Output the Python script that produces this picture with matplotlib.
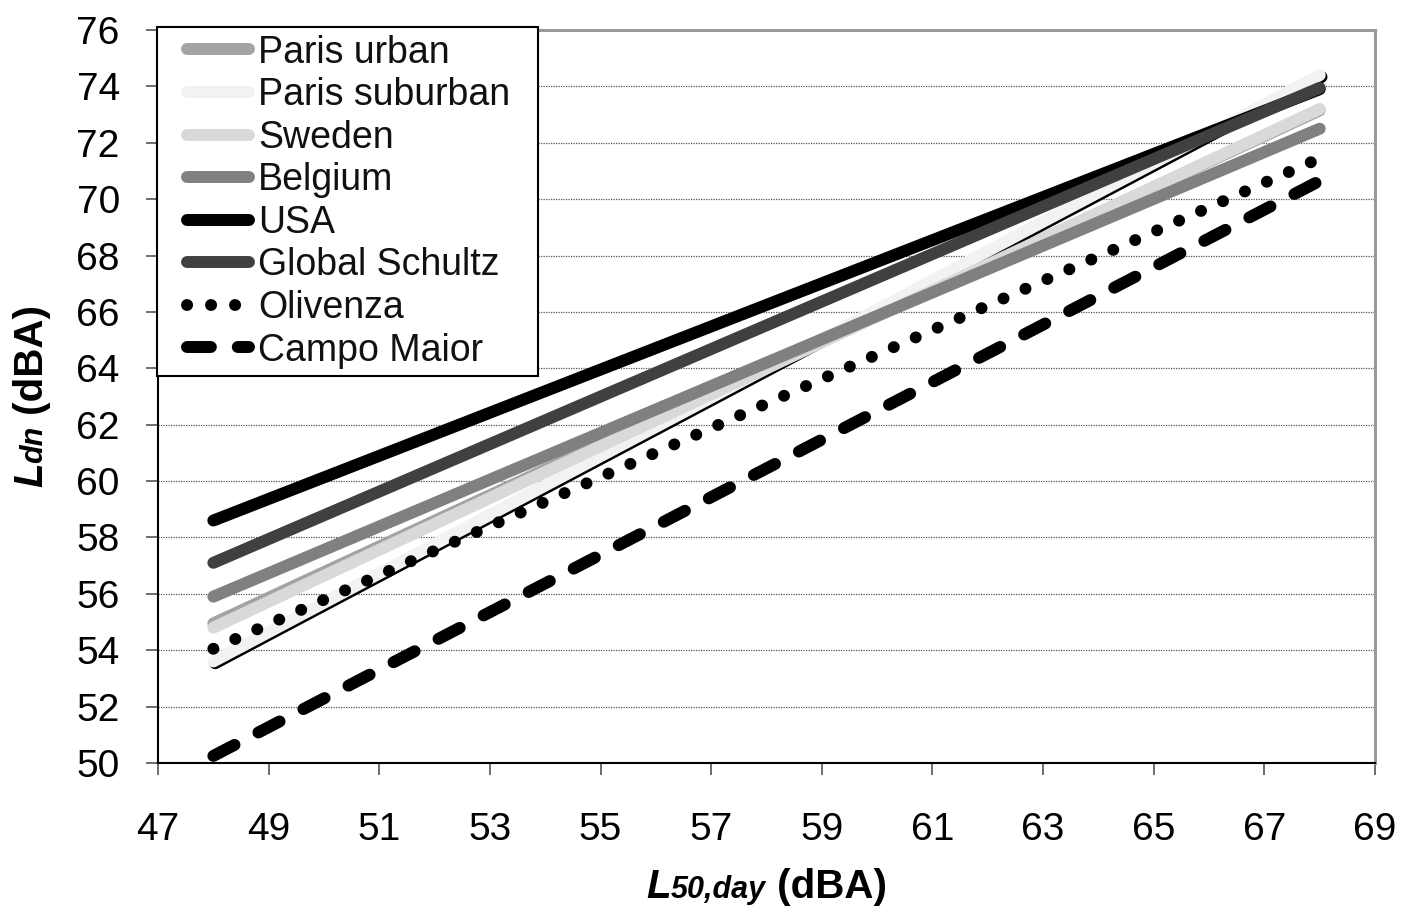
import matplotlib
matplotlib.use('Agg')
import matplotlib.pyplot as plt
import matplotlib.patheffects as pe
from matplotlib.legend_handler import HandlerLine2D
from matplotlib.transforms import offset_copy

plt.rcParams['font.family'] = ['Liberation Sans', 'DejaVu Sans']

# L50,day end points of the regression lines
x_ends = [48, 68]

names = ['Paris urban', 'Paris suburban', 'Sweden', 'Belgium', 'USA',
         'Global Schultz', 'Olivenza', 'Campo Maior']
ldn_start = [54.95, 53.6, 54.8, 55.9, 58.6, 57.1, 54.05, 50.25]
ldn_end = [73.15, 74.4, 73.2, 72.5, 73.9, 73.95, 71.45, 70.65]

colors = ['#a3a3a3', '#f2f2f2', '#d9d9d9', '#808080', '#000000',
          '#404040', '#000000', '#000000']
styles = ['-', '-', '-', '-', '-', '-', (0, (0.01, 2.0)), (0, (2.0, 2.25))]

xticks = list(range(47, 70, 2))
yticks = list(range(50, 77, 2))

fig = plt.figure(figsize=(14.17, 9.21), dpi=100)
ax = fig.add_axes([0.1115, 0.1716, 0.8589, 0.7958])

lw = 8.6
for i, name in enumerate(names):
    line, = ax.plot(x_ends, [ldn_start[i], ldn_end[i]], color=colors[i],
                    linestyle=styles[i], lw=lw, solid_capstyle='round',
                    dash_capstyle='round', label=name)

ax.set_xlim(47, 69)
ax.set_ylim(50, 76)
ax.set_xticks(xticks)
ax.set_yticks(yticks)
ax.tick_params(axis='both', labelsize=28, length=8.5, width=1.2,
               direction='out', color='#555555')
ax.tick_params(axis='y', pad=19)
ax.tick_params(axis='x', pad=27)
ax.yaxis.grid(True, linestyle=(0, (1, 1)), color='#555555', lw=0.9)
ax.set_axisbelow(True)

for s in ['left', 'bottom']:
    ax.spines[s].set_color('black')
    ax.spines[s].set_linewidth(1.5)
for s in ['top', 'right']:
    ax.spines[s].set_color('#999999')
    ax.spines[s].set_linewidth(2.2)

labels = list(names)
labels[1] = 'Paris suburban  '
leg = ax.legend(ax.get_lines(), labels, loc='upper left',
                bbox_to_anchor=(-0.001, 1.004),
                fontsize=27, frameon=True, fancybox=False, framealpha=1,
                edgecolor='black', borderpad=0.2, borderaxespad=0,
                handlelength=2.25, handletextpad=0.25, labelspacing=0.175,
                handler_map={matplotlib.lines.Line2D: HandlerLine2D(xpad=0.6)})
leg.get_frame().set_linewidth(1.5)
for t in leg.get_texts():
    t.set_color('#111111')

# shadow on the very light Paris suburban line (only in the plot)
ax.get_lines()[1].set_path_effects([
    pe.SimpleLineShadow(offset=(1.3, -1.3), shadow_color='k', alpha=1),
    pe.Normal()])

# axis labels built from pieces: big italic L, smaller italic subscript, bold unit
fig.canvas.draw()
renderer = fig.canvas.get_renderer()


def piece_label(parts, x, y, rotation):
    texts = []
    for txt, size, style in parts:
        t = fig.text(0, 0, txt, fontsize=size, fontweight='bold',
                     fontstyle=style, rotation=rotation,
                     rotation_mode='anchor', ha='left', va='baseline')
        texts.append(t)
    widths = [t.get_window_extent(renderer).width if rotation == 0
              else t.get_window_extent(renderer).height for t in texts]
    total = sum(widths)
    pos = -total / 2
    for t, w in zip(texts, widths):
        if rotation == 0:
            t.set_transform(offset_copy(fig.transFigure, fig=fig, x=pos, y=0,
                                        units='dots'))
        else:
            t.set_transform(offset_copy(fig.transFigure, fig=fig, x=0, y=pos,
                                        units='dots'))
        t.set_position((x, y))
        pos += w


piece_label([('L', 29, 'italic'), ('50,day', 22, 'italic'),
             (' (dBA)', 29, 'normal')], 0.541, 0.025, 0)
piece_label([('L', 29, 'italic'), ('dn', 22, 'italic'),
             (' (dBA)', 29, 'normal')], 0.03, 0.57, 90)

fig.savefig('out.png', dpi=100)
